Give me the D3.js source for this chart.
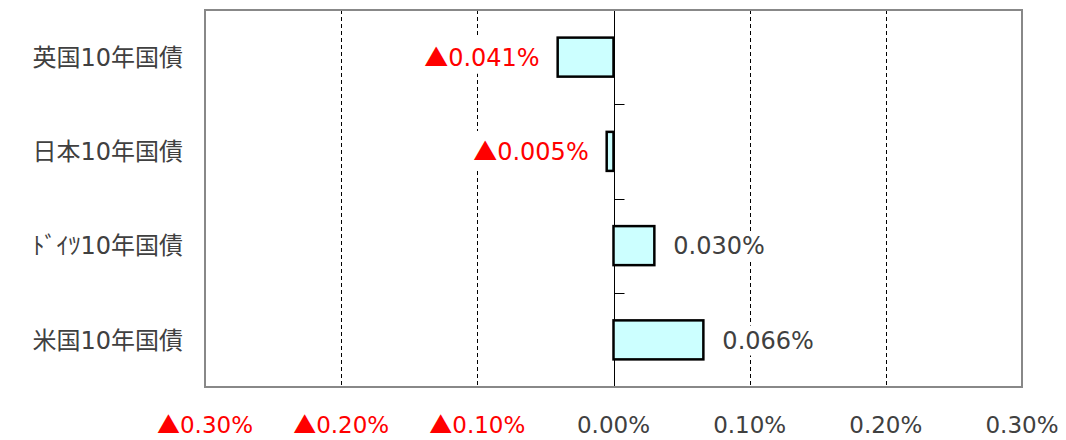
<!DOCTYPE html>
<html><head><meta charset="utf-8">
<script src="https://cdn.jsdelivr.net/npm/d3@7"></script>
<style>body{margin:0;background:#fff}svg{display:block}</style>
</head><body>
<script>
const categories = ["英国10年国債","日本10年国債","ﾄﾞｲﾂ10年国債","米国10年国債"];
const values = [-0.041,-0.005,0.030,0.066];
const valueLabels = ["0.041%","0.005%","0.030%","0.066%"];
const xTicks = [-0.3,-0.2,-0.1,0,0.1,0.2,0.3];
const xTickLabels = ["0.30%","0.20%","0.10%","0.00%","0.10%","0.20%","0.30%"];

(function(){
const W=1066,H=440;
const pL=205,pR=1022,pT=10,pB=387;
const font="'DejaVu Sans','Noto Sans CJK JP',sans-serif";
const cjk="'Noto Sans CJK JP',sans-serif";
const svg=d3.select("body").append("svg").attr("width",W).attr("height",H);
const x=d3.scaleLinear().domain([-0.3,0.3]).range([pL,pR]);
const y=d3.scaleBand().domain(categories).range([pT,pB]).paddingInner(0.586).paddingOuter(0.293);

function writeLabel(sel, neg, txt){
  if(neg) sel.append("tspan").attr("font-family",cjk).attr("dx",0).text("▲");
  sel.append("tspan").text(txt);
}

// grid
svg.append("g").selectAll("line").data(xTicks.filter(t=>t!==0&&Math.abs(t)<0.3)).join("line")
  .attr("x1",d=>Math.round(x(d))+0.5).attr("x2",d=>Math.round(x(d))+0.5).attr("y1",pT).attr("y2",pB)
  .attr("stroke","#000").attr("stroke-width",1).attr("stroke-dasharray","4,3");

// zero axis
const z=Math.round(x(0))+0.5;
svg.append("line").attr("x1",z).attr("x2",z).attr("y1",pT).attr("y2",pB).attr("stroke","#000").attr("stroke-width",1);
const step=y.step();
const bounds=d3.range(1,categories.length+1).map(i=>pT+step*i);
svg.append("g").selectAll("line").data(bounds).join("line")
  .attr("x1",z).attr("x2",z+10).attr("y1",d=>Math.round(d)+0.5).attr("y2",d=>Math.round(d)+0.5)
  .attr("stroke","#000").attr("stroke-width",1);

// bars
svg.append("g").selectAll("rect").data(values).join("rect")
  .attr("x",(d)=>x(Math.min(0,d))).attr("width",d=>Math.abs(x(d)-x(0)))
  .attr("y",(d,i)=>y(categories[i])).attr("height",y.bandwidth())
  .attr("fill","#ccffff").attr("stroke","#000").attr("stroke-width",2.5);

// value labels with white background
const lg=svg.append("g");
values.forEach((v,i)=>{
  const cy=y(categories[i])+y.bandwidth()/2;
  const tx=v<0? x(v)-18 : x(v)+19;
  const g=lg.append("g");
  const bg=g.append("rect").attr("fill","#fff");
  const t=g.append("text").attr("x",tx).attr("y",cy).attr("dy","0.36em")
    .attr("text-anchor",v<0?"end":"start").attr("font-family",font).attr("font-size",24)
    .attr("fill",v<0?"#ff0000":"#404040");
  writeLabel(t, v<0, valueLabels[i]);
  const bb=t.node().getBBox();
  bg.attr("x",bb.x-3).attr("y",bb.y-1).attr("width",bb.width+6).attr("height",bb.height+2);
});

// border
svg.append("rect").attr("x",pL).attr("y",pT).attr("width",pR-pL).attr("height",pB-pT)
  .attr("fill","none").attr("stroke","#888").attr("stroke-width",2);

// category labels
svg.append("g").selectAll("text").data(categories).join("text")
  .attr("x",183).attr("y",d=>y(d)+y.bandwidth()/2).attr("dy","0.36em")
  .attr("text-anchor","end").attr("font-family",font).attr("font-size",24).attr("fill","#404040")
  .text(d=>d);

// x tick labels
svg.append("g").selectAll("text").data(xTicks).join("text")
  .attr("x",d=>x(d)).attr("y",425).attr("dy","0.36em")
  .attr("text-anchor","middle").attr("font-family",font).attr("font-size",23)
  .attr("fill",d=>d<0?"#ff0000":"#404040")
  .each(function(d,i){ writeLabel(d3.select(this), d<0, xTickLabels[i]); });
})();
</script>
</body></html>
